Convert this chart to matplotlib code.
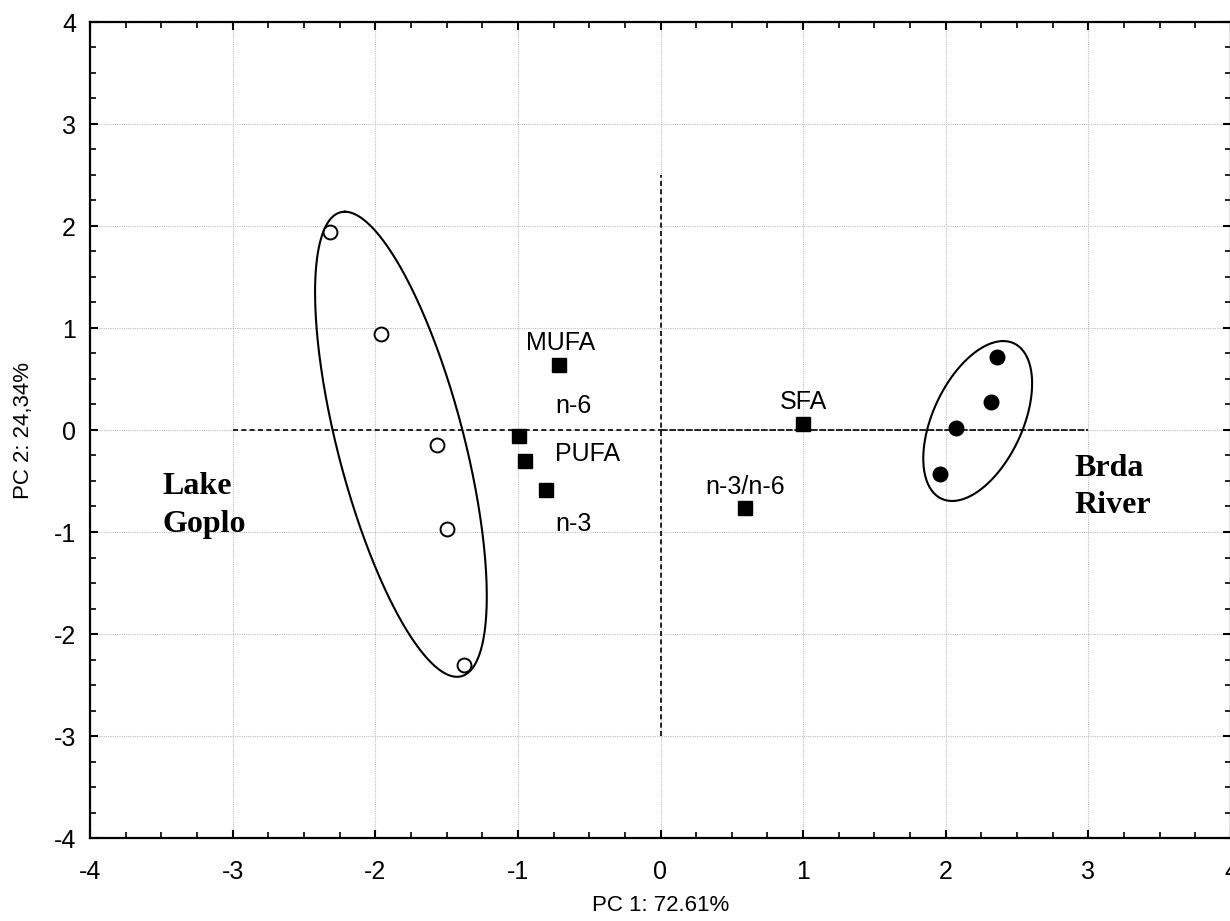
import matplotlib
matplotlib.use('Agg')
import matplotlib.pyplot as plt
import numpy as np

# PCA scores (samples)
lake_x = [-2.32, -1.96, -1.57, -1.50, -1.38]
lake_y = [1.94, 0.94, -0.15, -0.97, -2.30]
brda_x = [2.36, 2.32, 2.07, 1.96]
brda_y = [0.72, 0.27, 0.02, -0.43]

# fatty acid loadings
fa_x = [-0.71, -0.99, -0.95, -0.80, 0.59, 1.00]
fa_y = [0.64, -0.06, -0.30, -0.59, -0.76, 0.06]

fa_labels = ['MUFA', 'n-6', 'PUFA', 'n-3', 'n-3/n-6', 'SFA']
fa_label_x = [-0.70, -0.61, -0.51, -0.61, 0.59, 1.00]
fa_label_y = [0.85, 0.24, -0.24, -0.92, -0.56, 0.27]

# group ellipses: centre, conjugate half-diameters
lake_ell_c = [-1.82, -0.14]
lake_ell_u = [-0.393, 2.28]
lake_ell_v = [0.456, 0.0]
brda_ell_c = [2.224, 0.088]
brda_ell_u = [0.179, 0.784]
brda_ell_v = [0.337, 0.0]

plt.rcParams['font.family'] = ['Liberation Sans', 'DejaVu Sans']
plt.rcParams['axes.unicode_minus'] = False

fig = plt.figure(figsize=(12.3, 9.21), dpi=100)
ax = fig.add_axes([90 / 1230, 83 / 921, 1141 / 1230, 816 / 921])

ax.set_xlim(-4, 4)
ax.set_ylim(-4, 4)
ax.set_xticks(np.arange(-4, 5, 1))
ax.set_yticks(np.arange(-4, 5, 1))
ax.set_xticks(np.arange(-4, 4.01, 0.25), minor=True)
ax.set_yticks(np.arange(-4, 4.01, 0.25), minor=True)
ax.tick_params(which='both', direction='in', top=True, right=True, labelsize=18)
ax.tick_params(axis='x', which='major', pad=16)
ax.tick_params(axis='y', which='major', pad=10)
ax.tick_params(which='major', length=6, width=1.5)
ax.tick_params(which='minor', length=4, width=1.2)
ax.grid(True, which='major', color='#c0c0c0', linestyle=(0, (1, 1)), linewidth=0.8)
ax.set_axisbelow(True)
for s in ax.spines.values():
    s.set_linewidth(1.6)

# reference axes lines
ax.plot([-3, 0], [0, 0], color='black', linestyle=(0, (3, 2)), linewidth=1.2)
ax.plot([0, 3], [0, 0], color='black', linestyle=(0, (4, 1)), linewidth=1.2)
ax.plot([0, 0], [-3, 2.5], color='black', linestyle=(0, (3, 2)), linewidth=1.2)

# ellipses
t = np.linspace(0, 2 * np.pi, 300)
for c, u, v in [(lake_ell_c, lake_ell_u, lake_ell_v), (brda_ell_c, brda_ell_u, brda_ell_v)]:
    ex = c[0] + u[0] * np.cos(t) + v[0] * np.sin(t)
    ey = c[1] + u[1] * np.cos(t) + v[1] * np.sin(t)
    ax.plot(ex, ey, color='black', linewidth=1.5)

ax.plot(lake_x, lake_y, 'o', markersize=10, markerfacecolor='white',
        markeredgecolor='black', markeredgewidth=1.4, zorder=5)
ax.plot(brda_x, brda_y, 'o', markersize=10.5, color='black', zorder=5)
ax.plot(fa_x, fa_y, 's', markersize=9.5, color='black', zorder=5)

for lab, x, y in zip(fa_labels, fa_label_x, fa_label_y):
    ax.text(x, y, lab, fontsize=18, ha='center', va='center')

ax.text(-3.49, -0.74, 'Lake\nGoplo', fontsize=23, fontweight='bold',
        family=['Liberation Serif', 'DejaVu Serif'], ha='left', va='center', linespacing=1.45)
ax.text(2.90, -0.56, 'Brda\nRiver', fontsize=23, fontweight='bold',
        family=['Liberation Serif', 'DejaVu Serif'], ha='left', va='center', linespacing=1.35)

ax.set_xlabel('PC 1: 72.61%', fontsize=16, labelpad=8)
ax.set_ylabel('PC 2: 24,34%', fontsize=16, labelpad=14)

fig.savefig('out.png', dpi=100)
